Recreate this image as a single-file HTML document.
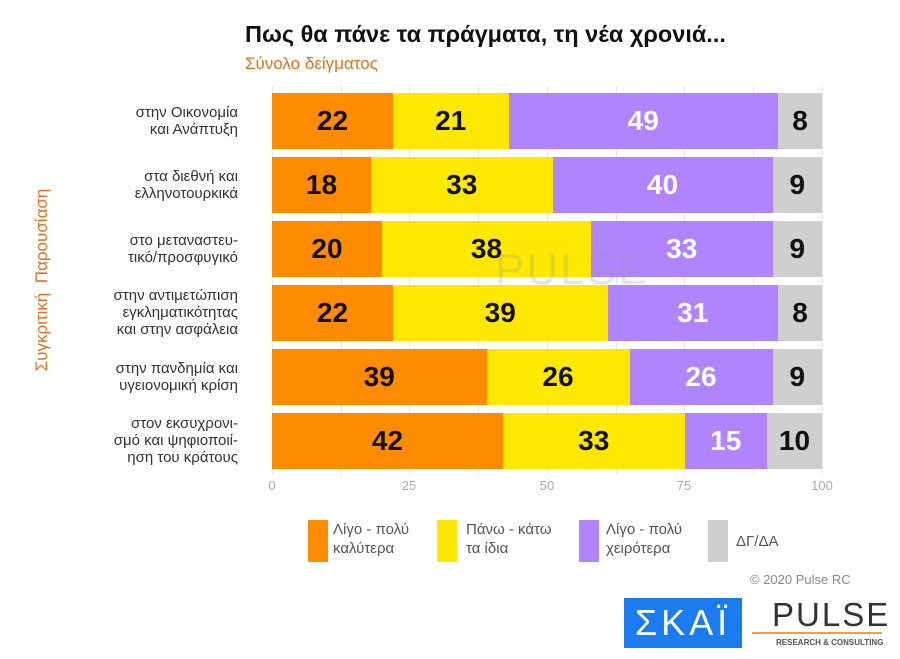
<!DOCTYPE html>
<html><head><meta charset="utf-8"><style>
body{margin:0;width:900px;height:659px;background:#fff;font-family:"Liberation Sans","DejaVu Sans",sans-serif;overflow:hidden;position:relative}
.abs{position:absolute}
.lbl{position:absolute;right:662px;text-align:right;font-size:15px;color:#333;line-height:17px;width:200px}
.bar{position:absolute;left:272px;height:56px;width:550px;display:flex}
.bar div{height:100%;display:flex;align-items:center;justify-content:center;font-weight:bold;font-size:28px;font-family:"Liberation Sans Narrow","Liberation Sans",sans-serif}
.o{background:#ff8c00;color:#111}.y{background:#ffe800;color:#111}.p{background:#b083ff;color:#fff}.g{background:#cfcfcf;color:#111}
.tick{position:absolute;top:478px;font-size:13px;color:#aaa;transform:translateX(-50%)}
.grid{position:absolute;top:86px;height:388px;width:1px;background:#e6e6e6}
.leg{position:absolute;top:520px;font-size:15px;color:#555;line-height:19px}
.sw{position:absolute;top:520px;width:20px;height:42px}
</style></head><body>
<div class="abs" style="left:245px;top:21px;font-size:23.5px;font-weight:bold;color:#111">Πως θα πάνε τα πράγματα, τη νέα χρονιά...</div>
<div class="abs" style="left:245px;top:54px;font-size:17px;color:#e07020">Σύνολο δείγματος</div>
<div class="abs" style="left:42px;top:280px;transform:translate(-50%,-50%) rotate(-90deg);font-size:17px;color:#e07020;white-space:nowrap">Συγκριτική&nbsp; Παρουσίαση</div>
<div class="grid" style="left:272px"></div><div class="grid" style="left:341px"></div><div class="grid" style="left:409px"></div><div class="grid" style="left:478px"></div><div class="grid" style="left:547px"></div><div class="grid" style="left:616px"></div><div class="grid" style="left:684px"></div><div class="grid" style="left:753px"></div><div class="grid" style="left:822px"></div>
<div class="lbl" style="top:104px">στην Οικονομία<br>και Ανάπτυξη</div>
<div class="lbl" style="top:168px">στα διεθνή και<br>ελληνοτουρκικά</div>
<div class="lbl" style="top:232px">στο μεταναστευ-<br>τικό/προσφυγικό</div>
<div class="lbl" style="top:287px">στην αντιμετώπιση<br>εγκληματικότητας<br>και στην ασφάλεια</div>
<div class="lbl" style="top:360px">στην πανδημία και<br>υγειονομική κρίση</div>
<div class="lbl" style="top:415px">στον εκσυχρονι-<br>σμό και ψηφιοποιί-<br>ηση του κράτους</div>
<div class="bar" style="top:93px"><div class="o" style="width:22%">22</div><div class="y" style="width:21%">21</div><div class="p" style="width:49%">49</div><div class="g" style="width:8%">8</div></div>
<div class="bar" style="top:157px"><div class="o" style="width:18%">18</div><div class="y" style="width:33%">33</div><div class="p" style="width:40%">40</div><div class="g" style="width:9%">9</div></div>
<div class="bar" style="top:221px"><div class="o" style="width:20%">20</div><div class="y" style="width:38%">38</div><div class="p" style="width:33%">33</div><div class="g" style="width:9%">9</div></div>
<div class="bar" style="top:285px"><div class="o" style="width:22%">22</div><div class="y" style="width:39%">39</div><div class="p" style="width:31%">31</div><div class="g" style="width:8%">8</div></div>
<div class="bar" style="top:349px"><div class="o" style="width:39%">39</div><div class="y" style="width:26%">26</div><div class="p" style="width:26%">26</div><div class="g" style="width:9%">9</div></div>
<div class="bar" style="top:413px"><div class="o" style="width:42%">42</div><div class="y" style="width:33%">33</div><div class="p" style="width:15%">15</div><div class="g" style="width:10%">10</div></div>
<div class="abs" style="left:495px;top:245px;font-size:44px;color:rgba(150,150,150,0.25);letter-spacing:2px">PULSE</div>
<div class="tick" style="left:272px">0</div><div class="tick" style="left:409px">25</div><div class="tick" style="left:547px">50</div><div class="tick" style="left:684px">75</div><div class="tick" style="left:822px">100</div>
<div class="sw o" style="left:308px"></div><div class="leg" style="left:333px">Λίγο - πολύ<br>καλύτερα</div>
<div class="sw y" style="left:437px"></div><div class="leg" style="left:466px">Πάνω - κάτω<br>τα ίδια</div>
<div class="sw p" style="left:579px"></div><div class="leg" style="left:606px">Λίγο - πολύ<br>χειρότερα</div>
<div class="sw g" style="left:708px"></div><div class="leg" style="left:736px;top:532px">ΔΓ/ΔΑ</div>
<div class="abs" style="left:750px;top:572px;font-size:13px;color:#888">© 2020 Pulse RC</div>
<div class="abs" style="left:624px;top:598px;width:118px;height:50px;background:#1a7cf0;color:#fff;font-size:36px;display:flex;align-items:center;justify-content:center;letter-spacing:4px">ΣΚΑΪ</div>
<div class="abs" style="left:772px;top:596px;font-size:33px;color:#333;letter-spacing:2px">PULSE</div>
<div class="abs" style="left:752px;top:632px;width:130px;height:2px;background:#f0a040"></div>
<div class="abs" style="left:776px;top:638px;font-size:8px;color:#555;font-weight:bold">RESEARCH &amp; CONSULTING</div>
</body></html>
